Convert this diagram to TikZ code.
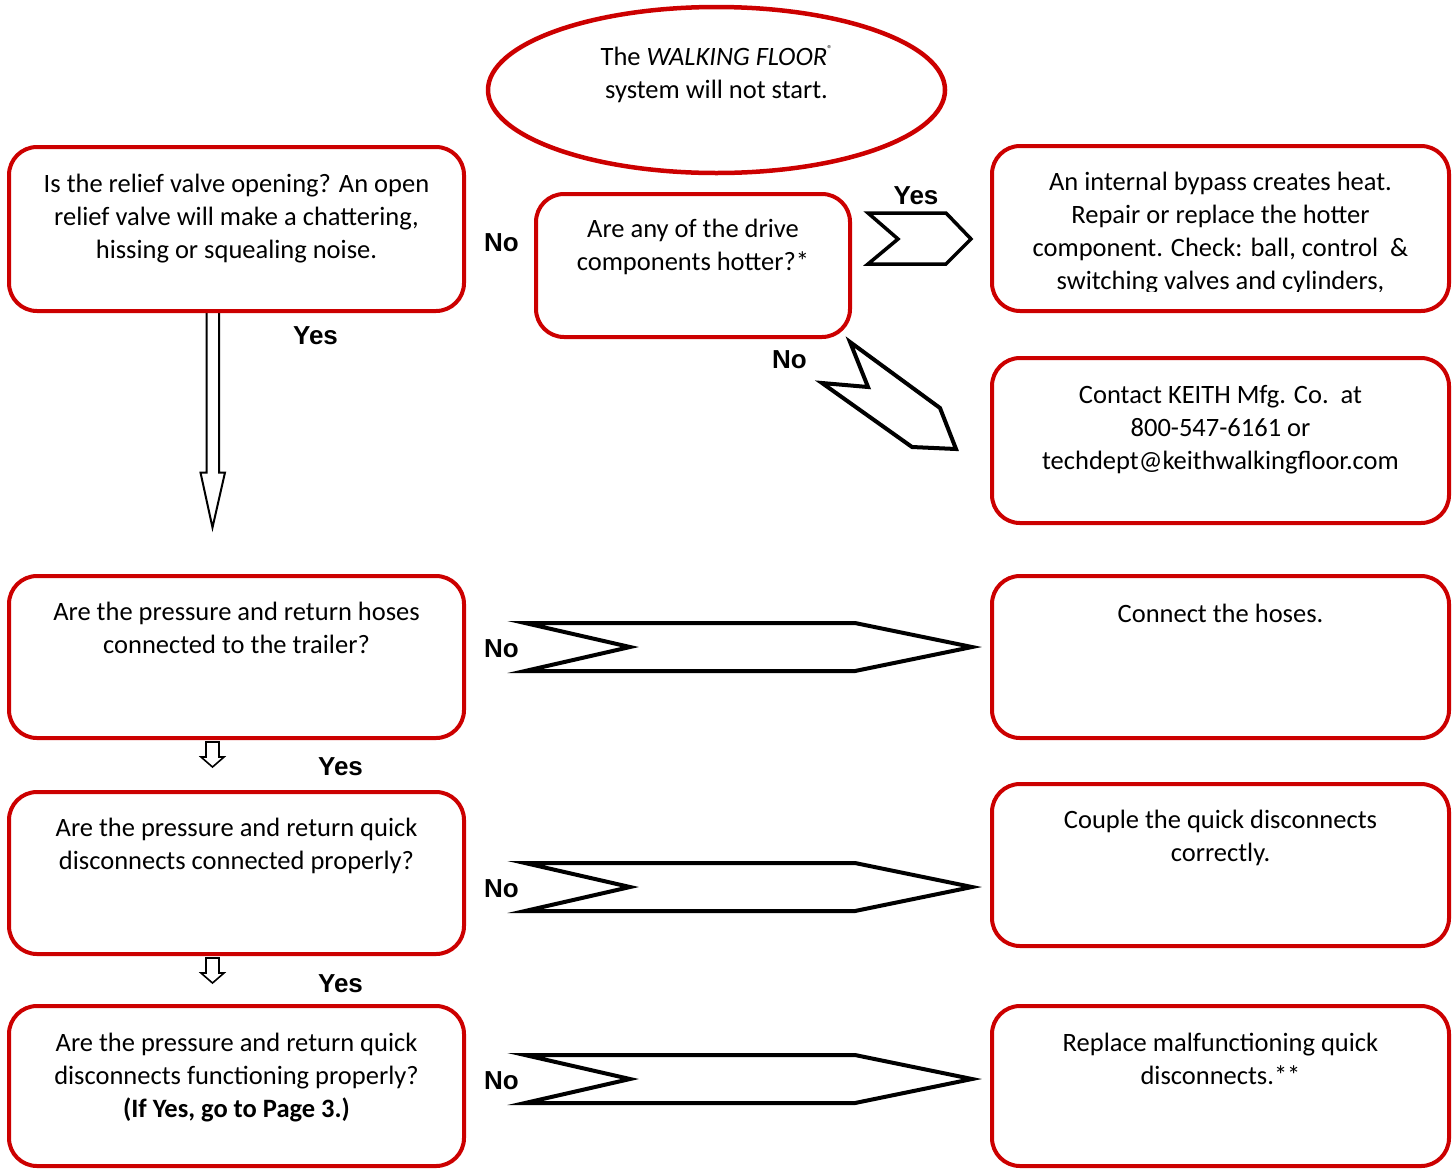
\documentclass[tikz,border=0pt]{standalone}
\usepackage{fontspec}
\setmainfont{Carlito}
\newfontfamily\labfont{Liberation Sans}
\usetikzlibrary{shapes.geometric}
\definecolor{boxred}{RGB}{204,0,0}
\begin{document}
\begin{tikzpicture}[x=1pt,y=-1pt,
  box/.style={draw=boxred, line width=4pt, rounded corners=28pt, inner sep=0pt, outer sep=0pt, anchor=north west},
  txt/.style={font=\fontsize{26.5}{33}\selectfont, align=center, inner sep=0pt, outer sep=0pt, anchor=north,
    execute at begin node={\rule{0pt}{20pt}}},
  lab/.style={font=\labfont\bfseries\fontsize{26}{26}\selectfont, anchor=base, inner sep=0pt},
  blockarrow/.style={draw=black, line width=4pt, line join=miter, fill=white},
  thinarrow/.style={draw=black, line width=2pt, line join=miter, fill=white}]
\useasboundingbox (0,0) rectangle (1455,1168);

% block arrows (drawn first, boxes on top)
\draw[thinarrow] (206.5,311) -- (206.5,472.5) -- (200.5,472.5) -- (212.5,527.5) -- (225,472.5) -- (219,472.5) -- (219,311) -- cycle;
\draw[thinarrow, line width=1.6pt] (206,742) -- (206,757) -- (201,757) -- (212.5,767) -- (224,757) -- (219,757) -- (219,742) -- cycle;
\draw[thinarrow, line width=1.6pt] (206,958) -- (206,973) -- (201,973) -- (212.5,983) -- (224,973) -- (219,973) -- (219,958) -- cycle;

\draw[blockarrow, line width=3.5pt] (868,213) -- (898,239) -- (868,264) -- (946,264) -- (971,239) -- (946,213) -- cycle;
\draw[blockarrow] (850,342) -- (868,387) -- (822,383) -- (912,447) -- (956,449) -- (940,408) -- cycle;
\foreach \c in {647,887,1079}{
  \draw[blockarrow] (525,\c-24) -- (630,\c) -- (525,\c+24) -- (855,\c+24) -- (972,\c) -- (855,\c-24) -- cycle;
}

% start ellipse
\node[draw=boxred, ellipse, line width=4.5pt, minimum width=457pt, minimum height=166pt, inner sep=0pt, outer sep=0pt] (start) at (716.5,90) {};
\node[txt] (tstart) at (716.5,46) {The \textit{WALKING FLOOR}\raisebox{13pt}{\fontsize{10}{10}\selectfont ®}\\system will not start.};

% boxes
\node[box, minimum width=455pt, minimum height=164pt] (b1) at (9,147) {};
\node[box, minimum width=314pt, minimum height=143pt] (b2) at (536,194) {};
\node[box, minimum width=457pt, minimum height=165pt] (b3) at (992,146) {};
\node[box, minimum width=457pt, minimum height=165pt] (b4) at (992,358) {};
\node[box, minimum width=455pt, minimum height=162pt] (b5) at (9,576) {};
\node[box, minimum width=457pt, minimum height=162pt] (b6) at (992,576) {};
\node[box, minimum width=455pt, minimum height=162pt] (b7) at (9,792) {};
\node[box, minimum width=457pt, minimum height=162pt] (b8) at (992,784) {};
\node[box, minimum width=455pt, minimum height=160pt] (b9) at (9,1006) {};
\node[box, minimum width=457pt, minimum height=160pt] (b10) at (992,1006) {};

% texts
\node[txt, yshift=-27pt] (t1) at (b1.north) {Is the relief valve opening? An open\\relief valve will make a chattering,\\hissing or squealing noise.};
\node[txt, yshift=-25pt] (t2) at (b2.north) {Are any of the drive\\components hotter?*};
\begin{scope}
  \clip (992,146) rectangle (1450,291);
  \node[txt, yshift=-26pt] (t3) at (b3.north) {An internal bypass creates heat.\\Repair or replace the hotter\\component. Check: ball, control\ \ \&\\switching valves and cylinders,};
\end{scope}
\node[txt, yshift=-27pt] (t4) at (b4.north) {Contact KEITH Mfg. Co.\ \ at\\800-547-6161 or\\techdept@keithwalkingfloor.com};
\node[txt, yshift=-26pt] (t5) at (b5.north) {Are the pressure and return hoses\\connected to the trailer?};
\node[txt, yshift=-26pt] (t6) at (b6.north) {Connect the hoses.};
\node[txt, yshift=-26pt] (t7) at (b7.north) {Are the pressure and return quick\\disconnects connected properly?};
\node[txt, yshift=-26pt] (t8) at (b8.north) {Couple the quick disconnects\\correctly.};
\node[txt, yshift=-27pt] (t9) at (b9.north) {Are the pressure and return quick\\disconnects functioning properly?\\\textbf{(If Yes, go to Page 3.)}};
\node[txt, yshift=-27pt] (t10) at (b10.north) {Replace malfunctioning quick\\disconnects.**};

% labels
\node[lab] (l1) at (501.5,251) {No};
\node[lab] (l2) at (916,204) {Yes};
\node[lab] (l3) at (315.5,344) {Yes};
\node[lab] (l4) at (789.5,368) {No};
\node[lab] (l5) at (501.5,657) {No};
\node[lab] (l6) at (501.5,897) {No};
\node[lab] (l7) at (501.5,1089) {No};
\node[lab] (l8) at (340.5,775) {Yes};
\node[lab] (l9) at (340.5,992) {Yes};
\end{tikzpicture}
\end{document}
